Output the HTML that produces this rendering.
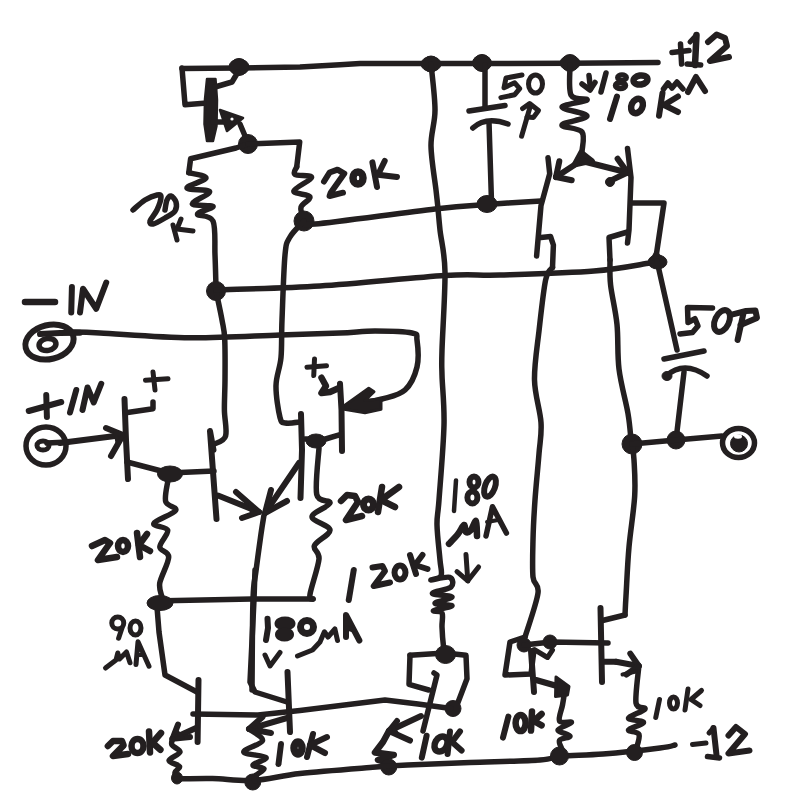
<!DOCTYPE html>
<html><head><meta charset="utf-8"><style>
html,body{margin:0;padding:0;background:#fff;}
svg{display:block;}
path{fill:none;stroke:#231f20;stroke-linecap:round;stroke-linejoin:round;}
.f{fill:#231f20;stroke:#231f20;}
text{font-family:"Liberation Sans",sans-serif;fill:#231f20;}
</style></head><body>
<svg width="800" height="809" viewBox="0 0 800 809">
<rect width="800" height="809" fill="#fff"/>
<path d="M182,68.5 L239,68 L300,67 L340,64.75 L360,63.5 L431,63.5 L482,63.5 L570,63.3 L658,62.5" stroke-width="5.5"/>
<circle cx="239" cy="67" r="8.5" class="f"/>
<circle cx="431" cy="64" r="8" class="f"/>
<circle cx="482" cy="63" r="8.5" class="f"/>
<circle cx="570" cy="63" r="8.5" class="f"/>
<ellipse class="f" cx="239" cy="67" rx="10" ry="8"/>
<ellipse class="f" cx="431" cy="64" rx="10" ry="7.5"/>
<ellipse class="f" cx="482" cy="63" rx="9.5" ry="8"/>
<ellipse class="f" cx="570" cy="63" rx="10" ry="7.5"/>
<path d="M182,68 L185,104.7 L207,103" stroke-width="5.5"/>
<path class="f" d="M207,79 L215.5,79 L217,100 L216.5,126 L213,141 L207,141 L204.5,124 L205,99 Z" stroke-width="2.5"/>
<path d="M215,87 L232,82 L238,72" stroke-width="5.5"/>
<path d="M213,122 L226,122" stroke-width="5.5"/>
<path class="f" d="M220,110 L243,118 L227,131 Z" stroke-width="2.5"/>
<circle cx="232" cy="119" r="1.6" style="fill:#fff;stroke:none"/>
<path d="M240,124 L248,143" stroke-width="5.5"/>
<circle cx="248" cy="144" r="9.5" class="f"/>
<path d="M248,144 L236,148 L190.6,158.8 L188.8,172.7" stroke-width="5.5"/>
<path d="M188.8,172.7 C191.7,173.6 206.3,175.4 206,178 C205.7,180.6 186.4,185.7 187,188 C187.6,190.3 208.7,189.1 209.6,191.7 C210.5,194.3 191.7,201.4 192.3,203.8 C192.9,206.2 212.1,204.7 213,206.4 C213.9,208.1 197.5,211.8 197.5,214.2 C197.5,216.6 210.1,214.2 213,221 C215.9,227.8 214.5,244.0 215,255 C215.5,266.0 215.8,281.7 216,287" stroke-width="5.5"/>
<circle cx="216" cy="291" r="9.5" class="f"/>
<path d="M216,291 C217.0,295.8 220.6,312.0 222,320 C223.4,328.0 224.2,328.8 224.7,338.75 C225.2,348.8 225.1,368.1 225,380 C224.9,391.9 224.3,400.7 224.4,410 C224.5,419.3 227.3,430.3 225.6,436 C223.9,441.7 216.3,442.7 214.4,444" stroke-width="5.5"/>
<path d="M248,144 L299.7,141.9 L296.7,167" stroke-width="5.5"/>
<path d="M296.7,167 C296.4,168.2 292.5,172.8 295,174.5 C297.5,176.2 311.8,174.8 311.6,177.5 C311.4,180.2 294.1,187.8 293.8,191 C293.5,194.2 308.8,194.1 310,196.8 C311.2,199.5 302.0,203.3 301,207.2 C300.0,211.1 303.5,217.9 304,220" stroke-width="5.5"/>
<circle cx="304" cy="221" r="10" class="f"/>
<path d="M304,221 C305.8,221.5 293.2,226.0 315,224 C336.8,222.0 406.3,212.2 435,209 C463.7,205.8 469.3,205.8 487,204.5 C504.7,203.2 532.0,201.6 541,201" stroke-width="5.5"/>
<path d="M304,221 C301.7,223.7 293.2,231.3 290,237 C286.8,242.7 286.3,241.2 285,255 C283.7,268.8 282.7,302.9 282,320 C281.3,337.1 282.0,346.6 281,357.5 C280.0,368.4 276.2,375.6 276,385.6 C275.8,395.6 278.4,411.3 280,417.5 C281.6,423.7 282.2,422.2 285.6,423 C289.0,423.8 298.1,422.2 300.6,422" stroke-width="5.5"/>
<path d="M216,290 C233.3,289.3 281.8,288.4 320,286 C358.2,283.6 415.0,277.3 445,275.5 C475.0,273.7 475.2,275.8 500,275 C524.8,274.2 569.0,273.0 594,271 C619.0,269.0 640.7,264.3 650,263" stroke-width="5.5"/>
<ellipse class="f" cx="657.5" cy="262" rx="9.5" ry="7"/>
<path class="f" d="M656,252 L664,262 L650,262 Z" stroke-width="3"/>
<path d="M70,332 C75.0,332.2 80.0,332.0 100,333 C120.0,334.0 160.0,337.5 190,337.8 C220.0,338.1 255.0,335.8 280,335 C305.0,334.2 324.2,333.7 340,333 C355.8,332.3 363.0,331.0 375,331 C387.0,331.0 405.0,331.5 412,333 C419.0,334.5 416.2,334.3 417,340 C417.8,345.7 419.0,358.7 417,367 C415.0,375.3 410.8,384.7 405,390 C399.2,395.3 392.2,396.2 382,399 C371.8,401.8 350.3,405.7 344,407" stroke-width="5.5"/>
<path class="f" d="M344.25,405.75 L368.75,388.25 L374,391.75 L365,400.5 L381,398.75 L381,409.25 L365,412.75 L344.25,409.25 Z" stroke-width="3"/>
<path d="M431,64 C431.7,71.7 435.0,96.3 435,110 C435.0,123.7 430.8,132.7 431,146 C431.2,159.3 434.9,180.2 436,190 C437.1,199.8 436.9,197.8 437.6,204.5 C438.3,211.2 438.8,218.8 440,230 C441.2,241.2 444.7,252.0 445,272 C445.3,292.0 442.5,332.8 442,350 C441.5,367.2 441.7,362.5 442,375 C442.3,387.5 444.5,404.2 444,425 C443.5,445.8 440.2,483.3 439,500 C437.8,516.7 436.8,515.0 437,525 C437.2,535.0 439.3,551.5 440,560 C440.7,568.5 442.5,572.7 441,576 C439.5,579.3 429.6,579.8 431,580 C432.4,580.2 446.4,576.1 449.7,577.3 C453.0,578.5 453.9,584.3 451,587 C448.1,589.7 432.2,591.7 432.4,593.4 C432.6,595.1 451.6,595.4 452,597 C452.4,598.6 435.0,601.8 435,603.3 C435.0,604.8 452.2,604.6 452,605.8 C451.8,607.0 435.3,609.5 433.6,610.7 C431.9,611.9 440.6,610.3 442,613 C443.4,615.7 441.8,621.4 442,627 C442.2,632.6 443.0,642.4 443.5,646.6 C444.0,650.8 444.8,651.1 445,652" stroke-width="5.5"/>
<path d="M485,65 L485,107" stroke-width="5.5"/>
<path d="M469,111 L505,105.5" stroke-width="5.5"/>
<path d="M472.8,128 Q486,116 508,124" stroke-width="5.5"/>
<path d="M489,122 L491.5,202" stroke-width="5.5"/>
<ellipse class="f" cx="487" cy="204" rx="10" ry="8.5"/>
<path d="M570,65 C570.2,70.0 568.2,89.2 571,95 C573.8,100.8 588.5,98.0 587,100 C585.5,102.0 562.0,104.3 562,107 C562.0,109.7 587.0,113.0 587,116 C587.0,119.0 562.8,122.3 562,125 C561.2,127.7 578.7,127.5 582,132 C585.3,136.5 582.0,147.3 582,152 C582.0,156.7 582.0,158.7 582,160" stroke-width="5.5"/>
<path class="f" d="M581,152 L592.5,161 L574,165 Z" stroke-width="5"/>
<path d="M582,160 L556,177" stroke-width="6"/>
<path d="M556,177 L571.7,180.3" stroke-width="6"/>
<path d="M556,177 L559.3,161.3" stroke-width="6"/>
<path d="M582,161 L627.5,172.5" stroke-width="6"/>
<path d="M627.5,172.5 L617.6,158.7" stroke-width="6"/>
<path d="M627.5,172.5 L612.2,179.9" stroke-width="6"/>
<circle cx="610" cy="182" r="4.5" class="f"/>
<path d="M548,157.8 L549.7,173.75 L541,205.6 L536.6,256" stroke-width="5.5"/>
<path d="M541,237.5 L550.6,236.6 L553.4,245 L552.5,267.5" stroke-width="5.5"/>
<path d="M552.5,267.5 C551.4,269.6 547.9,269.4 545.6,280 C543.4,290.6 540.9,314.3 539,331 C537.1,347.7 534.2,364.8 534.5,380 C534.8,395.2 540.2,410.2 541,422.5 C541.8,434.8 540.0,440.8 539,453.7 C538.0,466.6 536.0,485.6 535,500 C534.0,514.4 533.3,527.2 533,540 C532.7,552.8 532.2,568.2 533,577 C533.8,585.8 539.3,583.0 538,593 C536.7,603.0 527.2,629.7 525,637" stroke-width="5.5"/>
<path d="M627.5,148.4 L631,177.5 L629,230 L627.5,243" stroke-width="5.5"/>
<path d="M631,203 L664,203 L656,257" stroke-width="5.5"/>
<path d="M627.5,232 L609,237.5 L610,260" stroke-width="5.5"/>
<path d="M610,260 C610.1,264.2 609.4,274.2 610.6,285 C611.8,295.8 615.6,310.5 617,324.5 C618.4,338.5 617.2,354.1 619,369 C620.8,383.9 626.0,401.8 628,413.6 C630.0,425.4 630.5,435.6 631,440" stroke-width="5.5"/>
<circle cx="632" cy="444" r="10" class="f"/>
<path d="M632,443 C632.3,445.8 633.5,451.2 634,460 C634.5,468.8 635.5,481.2 634.7,495.7 C633.9,510.2 630.5,530.3 629,547 C627.5,563.7 626.7,584.7 626,596 C625.3,607.3 625.2,611.8 625,615" stroke-width="5.5"/>
<path d="M625,615 L602.5,620.5" stroke-width="5.5"/>
<path d="M657,261 L677,350" stroke-width="5.5"/>
<path d="M664,359 L704,351" stroke-width="5.5"/>
<path d="M666,376 Q684,360 707,376" stroke-width="5.5"/>
<ellipse class="f" cx="667" cy="376" rx="5" ry="4.5"/>
<path d="M684,372 L676,440" stroke-width="5.5"/>
<circle cx="676" cy="440" r="9" class="f"/>
<path d="M632,444 L676,440 L722,436" stroke-width="5.5"/>
<ellipse cx="738.5" cy="443" rx="16" ry="14.5" stroke-width="5.5" style="fill:none;stroke:#231f20"/>
<ellipse class="f" cx="739" cy="443.5" rx="8.5" ry="8.5"/>
<ellipse cx="738" cy="436.5" rx="4" ry="2.2" style="fill:#fff;stroke:none"/>
<path d="M525,637 L510,642 L505,675 L531,674 L534,650" stroke-width="5.5"/>
<circle cx="524" cy="645" r="7" class="f"/>
<circle cx="550" cy="642" r="7" class="f"/>
<path d="M524,645 L551,642 L608,643" stroke-width="5.5"/>
<path d="M535,650 L547.5,657.5 L552.5,650" stroke-width="5"/>
<path d="M600.5,608 L602,682" stroke-width="6"/>
<path d="M531,651 L534,692" stroke-width="6"/>
<path d="M536,680 L557,686" stroke-width="6"/>
<path class="f" d="M556,677 L569,686.5 L567.5,695 L555.5,696.5 Z" stroke-width="3"/>
<path d="M564,696 C563.8,697.5 563.2,700.8 562.5,705 C561.8,709.2 558.0,718.1 559.5,721 C561.0,723.9 571.8,721.0 571.5,722.5 C571.2,724.0 558.2,727.8 558,730 C557.8,732.2 569.8,734.2 570,736 C570.2,737.8 560.8,738.0 559.5,740.5 C558.2,743.0 562.2,748.4 562.5,751 C562.8,753.6 561.2,755.2 561,756" stroke-width="5.5"/>
<path d="M602,661.75 L616,661.75" stroke-width="6"/>
<path d="M616,661.75 L638.75,666" stroke-width="6"/>
<path d="M638.75,666 L630.3,653.6" stroke-width="6"/>
<path d="M638.75,666 L626.4,674.5" stroke-width="6"/>
<path d="M638.75,667 C638.3,673.0 635.0,696.0 636,703 C637.0,710.0 646.2,706.5 645,709 C643.8,711.5 628.8,715.8 628.5,718 C628.2,720.2 643.5,720.5 643.5,722.5 C643.5,724.5 629.2,728.0 628.5,730 C627.8,732.0 637.8,731.2 639,734.5 C640.2,737.8 636.8,746.5 636,749.5 C635.2,752.5 634.8,752.0 634.5,752.5" stroke-width="5.5"/>
<path d="M622.5,674.5 L636,671.5" stroke-width="4"/>
<path d="M410,655.3 L445,653 L466,655.3 L467,678.75 L457,705" stroke-width="5.5"/>
<circle cx="453" cy="708.5" r="8" class="f"/>
<path d="M410,655.3 L409,684.4 L428.75,690" stroke-width="5.5"/>
<path d="M434,673 L437,675 L423,731" stroke-width="5.5"/>
<path d="M421,716 L389,731" stroke-width="6"/>
<path d="M397,721 L389,731 L410,740.6" stroke-width="6"/>
<path class="f" d="M389,731 L392.6,726.5 L398.4,735.3 Z" stroke-width="3.5999999999999996"/>
<path d="M389,731 L383,742 L375,752.5 L393.75,755 L378,760 L392,764 L388.75,767.5" stroke-width="6.5"/>
<circle cx="388.75" cy="767" r="8" class="f"/>
<ellipse class="f" cx="445.5" cy="654.5" rx="10" ry="9"/>
<path d="M193,714 L258,715 L300,710.5 L385,700 L418,704 L451,708.5" stroke-width="5.5"/>
<path d="M198.5,680 L197.6,742" stroke-width="6"/>
<path d="M196,728 L172.5,738.75" stroke-width="6"/>
<path d="M178,724.6 L172.5,738.75 L190,737" stroke-width="6"/>
<path class="f" d="M172.5,738.75 L175.8,730.3 L183.0,737.7 Z" stroke-width="3.5999999999999996"/>
<path d="M172.5,738.75 C172.4,739.8 170.8,742.8 172,745 C173.2,747.2 180.5,749.4 180,752 C179.5,754.6 169.1,758.1 169,760.5 C168.9,762.9 178.5,764.5 179.5,766.5 C180.5,768.5 175.5,770.2 175,772.5 C174.5,774.8 176.2,778.8 176.5,780" stroke-width="5.5"/>
<ellipse class="f" cx="177" cy="778" rx="5.5" ry="6"/>
<path d="M176.5,779 C182.5,778.9 199.8,778.2 212.5,778.5 C225.2,778.8 238.2,781.3 252.75,780.5 C267.3,779.7 280.5,775.7 300,773.5 C319.5,771.3 352.1,768.9 370,767.5 C387.9,766.1 390.8,765.8 407.5,765 C424.2,764.2 447.9,763.3 470,762.5 C492.1,761.7 524.8,761.1 540,760 C555.2,758.9 550.5,757.0 561,756 C571.5,755.0 586.5,755.3 603,754 C619.5,752.7 648.0,749.5 660,748 C672.0,746.5 672.5,745.5 675,745" stroke-width="5.5"/>
<circle cx="252.75" cy="782" r="8" class="f"/>
<circle cx="559.5" cy="756" r="9" class="f"/>
<circle cx="634.5" cy="752.5" r="8" class="f"/>
<path d="M287.5,672 L290,732" stroke-width="6"/>
<path d="M287,718 L249,729" stroke-width="6"/>
<path d="M262.5,717 L249,729 L271,733" stroke-width="6"/>
<path class="f" d="M249,729 L257.1,721.8 L262.2,731.4 Z" stroke-width="3.5999999999999996"/>
<path d="M249,729 C251.2,730.9 263.4,736.8 262.5,740.6 C261.6,744.4 243.2,749.2 243.75,752 C244.3,754.8 264.5,755.3 266,757.5 C267.5,759.7 253.3,763.1 253,765 C252.7,766.9 263.7,766.9 264,768.75 C264.3,770.6 256.5,774.0 255,776 C253.5,778.0 255.0,780.2 255,781" stroke-width="5.5"/>
<path d="M255,570 L254,600 L250,682 L255,692 L287,702" stroke-width="5.5"/>
<path d="M157,607 L159,632 L165,675 L197,692" stroke-width="5.5"/>
<path d="M152,601 L252,599 L313,599" stroke-width="5.5"/>
<ellipse class="f" cx="160" cy="603" rx="13" ry="7.5"/>
<path d="M170,474 C169.6,475.3 168.4,477.2 167.7,481.8 C167.0,486.4 164.4,496.8 165.7,501.6 C167.0,506.4 177.6,506.9 175.6,510.5 C173.6,514.1 155.2,520.1 153.9,523.4 C152.6,526.7 166.7,526.4 167.7,530.3 C168.7,534.2 159.6,542.5 159.8,547 C160.0,551.5 168.7,551.0 168.7,557 C168.7,563.0 161.0,576.2 159.8,582.8 C158.7,589.4 161.5,594.3 161.8,596.6" stroke-width="5.5"/>
<path d="M319,448 C318.6,455.7 314.9,485.2 316.7,494.4 C318.5,503.6 330.8,499.3 330,503 C329.2,506.7 312.0,512.2 312,516.7 C312.0,521.2 329.6,525.2 330,530 C330.4,534.8 316.2,540.8 314.4,545.6 C312.6,550.4 319.7,550.9 319,559 C318.3,567.1 311.0,587.7 310,594.4 C309.0,601.1 312.5,598.2 313,599" stroke-width="5.5"/>
<path d="M264,515 C263.5,518.2 262.3,524.7 261,534 C259.7,543.3 257.3,560.2 256,571 C254.7,581.8 253.7,579.2 253,599 C252.3,618.8 252.2,674.8 252,690" stroke-width="5.5"/>
<path d="M218,495.5 L259,512" stroke-width="6"/>
<path d="M236,492 L259,512 L242,518" stroke-width="6"/>
<path class="f" d="M259,512 L249.8,504.0 L252.2,514.4 Z" stroke-width="3.5999999999999996"/>
<path d="M299,463 L265,513" stroke-width="6"/>
<path d="M271,490 L265,513 L287,501" stroke-width="6"/>
<path class="f" d="M265,513 L267.4,503.8 L273.8,508.2 Z" stroke-width="3.5999999999999996"/>
<path d="M213.5,450 L210,431 L216.5,519" stroke-width="6"/>
<path d="M301,414 L302,450 L300.5,498" stroke-width="6"/>
<path d="M340,383.75 L341.5,410 L342,451" stroke-width="6"/>
<path d="M305,439 L325.5,439 L341,434.4" stroke-width="5.5"/>
<ellipse class="f" cx="316" cy="441" rx="10" ry="7"/>
<path d="M127,462 L169,473 L214,471" stroke-width="5.5"/>
<ellipse class="f" cx="170" cy="474" rx="12.5" ry="8"/>
<path d="M124.5,399 L126,440 L128,479" stroke-width="6"/>
<path d="M127.5,412.5 L153,408.75 L153,402" stroke-width="5.5"/>
<path d="M60,443 L123,435" stroke-width="6"/>
<path d="M106,428 L123,435 L111,456" stroke-width="6"/>
<path class="f" d="M123,435 L115.3,431.9 L117.6,444.4 Z" stroke-width="3.5999999999999996"/>
<ellipse cx="49.5" cy="342" rx="24.5" ry="17" stroke-width="6" style="fill:none;stroke:#231f20" transform="rotate(-14 49.5 342)"/>
<path d="M40,334 L60,333 L80,332.75" stroke-width="6"/>
<ellipse cx="47.5" cy="344.5" rx="8.5" ry="6" stroke-width="5.5" style="fill:none;stroke:#231f20" transform="rotate(-10 47.5 344.5)"/>
<ellipse cx="46" cy="446" rx="20" ry="19" stroke-width="5.5" style="fill:none;stroke:#231f20"/>
<ellipse cx="43" cy="445.5" rx="6" ry="4.5" stroke-width="5" style="fill:none;stroke:#231f20"/>
<path d="M47,443 L68,442" stroke-width="5.5"/>
<path d="M672,52.6 L689,50.5" stroke-width="5.5"/>
<path d="M680.5,44 L681.6,64" stroke-width="5.5"/>
<path d="M696.5,35 L695,65" stroke-width="6.5"/>
<path d="M687,64 L700.7,65" stroke-width="5.5"/>
<path d="M690,42 L696.5,35" stroke-width="5"/>
<path d="M708,42 L716.6,34.5 L725,38 L727,46 L710,61 L729,57" stroke-width="6"/>
<path d="M589,75.5 L590.5,89" stroke-width="5.5"/>
<path d="M582,84 L590,90 L595,82.5" stroke-width="5.5"/>
<path d="M606,73 L601,92" stroke-width="5.5"/>
<ellipse cx="622" cy="77.5" rx="4.5" ry="2.8" stroke-width="5" style="fill:none;stroke:#231f20"/>
<ellipse cx="620.5" cy="85.5" rx="5" ry="3" stroke-width="5.5" style="fill:none;stroke:#231f20"/>
<ellipse cx="640.5" cy="80" rx="7" ry="4.5" stroke-width="6.5" style="fill:none;stroke:#231f20" transform="rotate(-10 640.5 80)"/>
<path d="M663.5,89 L668,83 L672,88 L677,82 L683,89" stroke-width="5.5"/>
<path d="M688,92 L696,77 L705,91" stroke-width="6"/>
<path d="M617,96.5 L610,119" stroke-width="6"/>
<ellipse cx="637" cy="106" rx="5.5" ry="7.5" stroke-width="6.5" style="fill:none;stroke:#231f20" transform="rotate(25 637 106)"/>
<path d="M662.5,93 L659,115.75" stroke-width="6"/>
<path d="M678,96.5 L664,105 L678,112" stroke-width="6"/>
<path d="M522,75 L506,78 L504,87.7 L514.7,82.8 L519.7,88.7 L514.7,94.7 L500.9,97.6" stroke-width="5"/>
<ellipse cx="535.5" cy="84" rx="7" ry="9" stroke-width="5" style="fill:none;stroke:#231f20"/>
<path d="M530.5,105.5 L521.6,136.2" stroke-width="5"/>
<path d="M522.6,108.5 L529.6,103.6 L538.5,110.5 L533.5,117.4 L527,117" stroke-width="5"/>
<path d="M324,181.5 L329.6,172.5 L337.5,169.7 L344.3,173.6 L330.7,192.7 L329.6,196 L343,192.7" stroke-width="6"/>
<ellipse cx="358" cy="178" rx="5" ry="6" stroke-width="7.5" style="fill:none;stroke:#231f20"/>
<path d="M372.4,162.4 L377,187" stroke-width="6"/>
<path d="M384.7,161 L378,174.7 L397,177" stroke-width="6"/>
<path d="M133,210 C135.0,208.3 141.0,202.5 145,200 C149.0,197.5 154.3,195.5 157,195 C159.7,194.5 161.0,194.5 161,197 C161.0,199.5 158.8,206.0 157,210 C155.2,214.0 150.7,218.7 150,221 C149.3,223.3 150.5,224.5 153,224 C155.5,223.5 161.3,220.2 165,218 C168.7,215.8 173.2,213.7 175,211 C176.8,208.3 176.7,204.5 176,202 C175.3,199.5 172.5,196.3 171,196 C169.5,195.7 168.0,197.7 167,200 C166.0,202.3 165.3,208.3 165,210" stroke-width="5.5"/>
<path d="M173,225 L177,240" stroke-width="5"/>
<path d="M181,219 L177,229 L193,231" stroke-width="5"/>
<path d="M25,302 L55,302" stroke-width="6.5"/>
<path d="M71.9,287 L71.25,312.5" stroke-width="6"/>
<path d="M80,312.5 L83,288.75 L96.25,308.75 L106.25,282.5" stroke-width="6"/>
<path d="M28.75,411 L61.25,402" stroke-width="6"/>
<path d="M46.25,395 L46.9,417" stroke-width="6"/>
<path d="M76.25,390 L70,412.5" stroke-width="6"/>
<path d="M82.5,410 L87.5,387.5 L93.75,402.5 L101.25,383.75" stroke-width="6"/>
<path d="M145.5,380.25 L168,378.75" stroke-width="5"/>
<path d="M153,372 L155,390" stroke-width="5"/>
<path d="M307,367.25 L326.5,365.75" stroke-width="5"/>
<path d="M314.5,359 L313.75,375.5" stroke-width="5"/>
<path d="M321.5,377.75 L326,386 L321.5,393 L330,392 L339,388" stroke-width="6.5"/>
<path d="M712.5,308 L687.5,307.5 L688,322.5 L695,318.75 L698,326 L692.5,332.5 L680,334" stroke-width="5.5"/>
<ellipse cx="722" cy="321" rx="7" ry="11.5" stroke-width="6" style="fill:none;stroke:#231f20" transform="rotate(25 722 321)"/>
<path d="M743.5,313 L737.6,340" stroke-width="6"/>
<path d="M731.7,314.6 L746,311 L755.4,310.5 L757,318 L740.6,325" stroke-width="6"/>
<path d="M341,501 L347,495 L355,496 L358,502 L346,520 L362,516" stroke-width="6.5"/>
<ellipse cx="368.5" cy="504.5" rx="5" ry="5.5" stroke-width="7" style="fill:none;stroke:#231f20"/>
<path d="M382,487 L378,512" stroke-width="6.5"/>
<path d="M399,487 L381,500 L395,507" stroke-width="6.5"/>
<path d="M456,480.4 L454,511" stroke-width="4.5"/>
<ellipse cx="474" cy="482" rx="4.5" ry="5.5" stroke-width="6" style="fill:none;stroke:#231f20"/>
<ellipse cx="472.4" cy="497.4" rx="5" ry="6" stroke-width="6" style="fill:none;stroke:#231f20"/>
<ellipse cx="490" cy="486.6" rx="5" ry="10.5" stroke-width="6" style="fill:none;stroke:#231f20" transform="rotate(20 490 486.6)"/>
<path d="M449,543.8 C450.5,542.2 455.5,537.1 458,534 C460.5,530.9 462.7,525.3 464,525 C465.3,524.7 464.8,531.2 466,532 C467.2,532.8 469.3,531.8 471,530 C472.7,528.2 475.0,520.0 476,521 C477.0,522.0 476.8,533.5 477,536" stroke-width="6.5"/>
<path d="M486,536 L492.5,506.7 L506.4,533" stroke-width="5.5"/>
<path d="M487,522 L498,520" stroke-width="4"/>
<path d="M466,554.6 L467.8,580.8" stroke-width="5"/>
<path d="M457,571.6 L467.8,580.8 L478.6,567" stroke-width="5"/>
<path d="M353.75,570 L348.75,600" stroke-width="6"/>
<path d="M372.5,567.5 L382.5,566 L385,571 L373.75,586 L390,582.5" stroke-width="6"/>
<ellipse cx="400" cy="572.5" rx="5.5" ry="7" stroke-width="6" style="fill:none;stroke:#231f20"/>
<path d="M410,555 L416,574" stroke-width="6"/>
<path d="M422.5,555 L415,565 L427.5,569" stroke-width="6"/>
<path d="M92,546 L105,540 L110,543 L98,560 L117,557" stroke-width="6.5"/>
<ellipse cx="123" cy="546" rx="5" ry="6" stroke-width="6.5" style="fill:none;stroke:#231f20"/>
<path d="M137,533 L140,557" stroke-width="6.5"/>
<path d="M147,534 L139,545 L150,551" stroke-width="6.5"/>
<ellipse cx="117.75" cy="623" rx="6" ry="6" stroke-width="5" style="fill:none;stroke:#231f20"/>
<path d="M122,628 L118.6,638.25" stroke-width="5"/>
<ellipse cx="135.5" cy="628" rx="5.5" ry="7" stroke-width="5" style="fill:none;stroke:#231f20"/>
<path d="M105.5,668 L116,660 L117.75,653 L119.5,659 L126.5,652 L130,662.75" stroke-width="5"/>
<path d="M136,664.5 L138,641.75 L149,666.25" stroke-width="5"/>
<path d="M137,655 L143,655" stroke-width="4"/>
<path d="M267.5,618.75 L268,628 L266,640" stroke-width="6"/>
<ellipse cx="285" cy="623.5" rx="7" ry="3.5" stroke-width="7" style="fill:none;stroke:#231f20"/>
<ellipse cx="284.5" cy="634.5" rx="6" ry="3.5" stroke-width="7" style="fill:none;stroke:#231f20"/>
<ellipse cx="307" cy="627" rx="6.5" ry="6.5" stroke-width="7" style="fill:none;stroke:#231f20"/>
<path d="M297.5,656 L312.5,650 L320,642 L324.4,631.75 L328,637 L334.9,629 L337.5,640.5" stroke-width="5"/>
<path d="M346,637 L346,615 L359.4,640.5" stroke-width="6"/>
<path d="M347,628 L353,630" stroke-width="5"/>
<path d="M265,655 L270,666 L280,652.5" stroke-width="5"/>
<path d="M107.9,746 L113,741 L122,741 L123.6,745.4 L113,756 L128,754" stroke-width="6.5"/>
<ellipse cx="137.5" cy="746" rx="6" ry="7" stroke-width="6.5" style="fill:none;stroke:#231f20"/>
<path d="M149,731.4 L150,752.4" stroke-width="6.5"/>
<path d="M161,733 L152.5,742.75 L160.4,749.75" stroke-width="6.5"/>
<path d="M281,744 L278.5,764" stroke-width="6"/>
<ellipse cx="298" cy="748" rx="4" ry="6" stroke-width="7.5" style="fill:none;stroke:#231f20"/>
<path d="M313,734 L307,757" stroke-width="6"/>
<path d="M327,737 L310,745 L325,753" stroke-width="6"/>
<path d="M426.6,735.75 L421.8,757.6" stroke-width="6"/>
<ellipse cx="441" cy="744" rx="6" ry="8" stroke-width="6.5" style="fill:none;stroke:#231f20" transform="rotate(30 441 744)"/>
<path d="M450,731.4 L447.6,754" stroke-width="6"/>
<path d="M460,731.4 L452,742 L461.6,750.6" stroke-width="6"/>
<path d="M508.4,716.6 L503,737.6" stroke-width="6"/>
<ellipse cx="520.6" cy="723" rx="5" ry="8" stroke-width="6.5" style="fill:none;stroke:#231f20"/>
<path d="M532,711.4 L531,730.6" stroke-width="6.5"/>
<path d="M541.6,714 L533.75,721 L541.6,725.4" stroke-width="6.5"/>
<path d="M659.5,699.5 L655.75,717.5" stroke-width="5"/>
<ellipse cx="673.5" cy="703" rx="4" ry="6" stroke-width="5" style="fill:none;stroke:#231f20"/>
<path d="M688,689 L685,710" stroke-width="5"/>
<path d="M701.5,690.5 L691,699.5 L700,705.5" stroke-width="5"/>
<path d="M692.5,744.5 L706,743" stroke-width="5"/>
<path d="M713.5,728 L716.5,755" stroke-width="6"/>
<path d="M707.5,756.5 L719.5,758" stroke-width="5.5"/>
<path d="M709,733 L713.5,728" stroke-width="5"/>
<path d="M728.5,735.5 L736,727 L745,734 L728.5,753.5 L749.5,750.5" stroke-width="6"/>
</svg></body></html>
